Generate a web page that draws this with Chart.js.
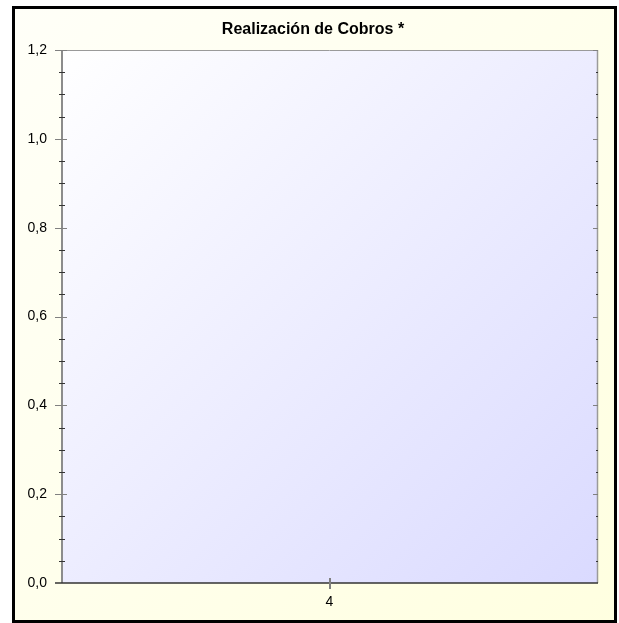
<!DOCTYPE html>
<html>
<head>
<meta charset="utf-8">
<script src="https://cdn.jsdelivr.net/npm/chart.js@4.4.0/dist/chart.umd.min.js"></script>
<style>
    body { margin: 0; background: #ffffff; }
    #wrap { width: 619px; height: 623px; }
</style>
</head>
<body>
<div id="wrap"><canvas id="myChart" width="619" height="623"></canvas></div>
<script>
var categories = ['4'];
var cobros = [0];
var yMajorTicks = [0, 0.2, 0.4, 0.6, 0.8, 1.0, 1.2];
var yMinorPerMajor = 3;
var chartTitle = 'Realización de Cobros *';

var fontFamily = "'Liberation Sans', Arial, sans-serif";

function line(ctx, x1, y1, x2, y2, color, width) {
    ctx.beginPath();
    ctx.strokeStyle = color;
    ctx.lineWidth = width;
    ctx.moveTo(x1, y1);
    ctx.lineTo(x2, y2);
    ctx.stroke();
}

/////////////////////////////////////////////////////////////////
// fondo, marco y marcas de los ejes
var framePlugin = {
    id: 'frame',
    beforeDraw: function (chart) {
        var ctx = chart.ctx;
        var a = chart.chartArea;
        ctx.save();
        ctx.fillStyle = '#ffffff';
        ctx.fillRect(0, 0, chart.width, chart.height);

        var g = ctx.createLinearGradient(13, 7, 616, 622);
        g.addColorStop(0, '#fffff8');
        g.addColorStop(1, '#ffffe0');
        ctx.fillStyle = g;
        ctx.fillRect(13, 7, 603, 615);

        var p = ctx.createLinearGradient(a.left, a.top, a.right, a.bottom);
        p.addColorStop(0, '#ffffff');
        p.addColorStop(1, '#dadaff');
        ctx.fillStyle = p;
        ctx.fillRect(a.left, a.top, a.right - a.left, a.bottom - a.top);
        ctx.restore();
    },
    afterDraw: function (chart) {
        var ctx = chart.ctx;
        var a = chart.chartArea;
        var y = chart.scales.y;
        var x = chart.scales.x;
        ctx.save();

        // bordes del area
        line(ctx, a.left, a.top + 0.5, a.right, a.top + 0.5, '#9a9a9a', 1);
        line(ctx, a.right - 0.5, a.top, a.right - 0.5, a.bottom, '#9a9a9a', 1.5);
        line(ctx, a.left + 1, a.top, a.left + 1, a.bottom, '#8c8c8c', 2);

        // marcas del eje y
        for (var i = 0; i < yMajorTicks.length; i++) {
            var py = Math.round(y.getPixelForValue(yMajorTicks[i])) + 0.5;
            if (i > 0) {
                line(ctx, a.left - 6, py, a.left + 6, py, '#808080', 1);
                line(ctx, a.right - 5, py, a.right, py, '#808080', 1);
            }
            if (i < yMajorTicks.length - 1) {
                var step = (yMajorTicks[i + 1] - yMajorTicks[i]) / (yMinorPerMajor + 1);
                for (var k = 1; k <= yMinorPerMajor; k++) {
                    var my = Math.round(y.getPixelForValue(yMajorTicks[i] + step * k)) + 0.5;
                    line(ctx, a.left - 2, my, a.left + 4, my, '#333333', 1);
                    line(ctx, a.right - 2, my, a.right, my, '#333333', 1);
                }
            }
        }

        // eje x
        line(ctx, a.left - 6, a.bottom, a.right, a.bottom, '#333333', 1.5);
        for (var j = 0; j < categories.length; j++) {
            var px = Math.round(x.getPixelForValue(j));
            line(ctx, px, a.bottom - 5, px, a.bottom + 6, '#808080', 2);
        }

        // marco exterior
        ctx.strokeStyle = '#000000';
        ctx.lineWidth = 3;
        ctx.strokeRect(13.5, 7.5, 602, 614);
        ctx.restore();
    }
};

/////////////////////////////////////////////////////////////////
var data = {
    labels: categories,
    datasets: [{
        label: 'Cobros',
        data: cobros,
        backgroundColor: 'rgb(54, 162, 235)',
        borderWidth: 0
    }]
};

var config = {
    type: 'bar',
    data: data,
    options: {
        responsive: false,
        animation: false,
        layout: { padding: { left: 28, right: 21, top: 0, bottom: 0 } },
        plugins: {
            legend: { display: false },
            tooltip: { enabled: false },
            title: {
                display: true,
                text: chartTitle,
                color: '#000000',
                font: { family: fontFamily, size: 16, weight: 'bold' },
                padding: { top: 20, bottom: 10.8 }
            }
        },
        scales: {
            x: {
                grid: { display: false, drawTicks: false },
                border: { display: false },
                ticks: {
                    color: '#000000',
                    padding: 11,
                    font: { family: fontFamily, size: 14 }
                },
                afterFit: function (s) { s.height = 40; }
            },
            y: {
                min: 0,
                max: 1.2,
                grid: { display: false, drawTicks: false },
                border: { display: false },
                afterBuildTicks: function (s) {
                    s.ticks = yMajorTicks.map(function (v) { return { value: v }; });
                },
                ticks: {
                    color: '#000000',
                    padding: 14,
                    font: { family: fontFamily, size: 14 },
                    callback: function (v) { return Number(v).toFixed(1).replace('.', ','); }
                },
                afterFit: function (s) { s.width = 33; }
            }
        }
    },
    plugins: [framePlugin]
};

var myChart = new Chart(document.getElementById('myChart'), config);
</script>
</body>
</html>
